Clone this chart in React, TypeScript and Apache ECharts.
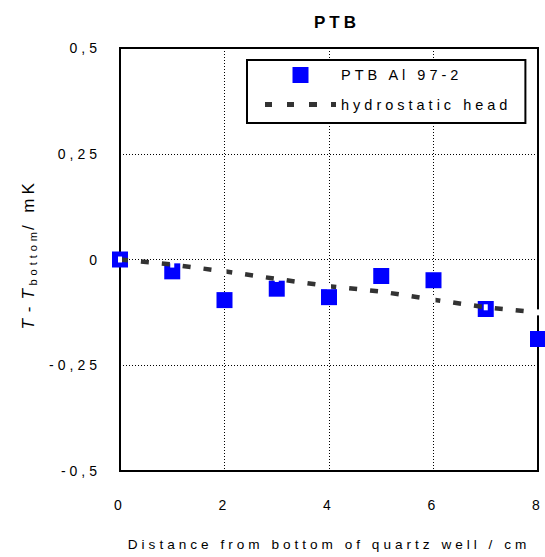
import React, { useEffect, useRef } from "react";
import * as echarts from "echarts";

const titleText = "PTB";
const xTicks = [0, 2, 4, 6, 8];
const yTicks = [-0.5, -0.25, 0, 0.25, 0.5];
const distances = [0, 1, 2, 3, 4, 5, 6, 7, 8];
const ptbValues = [0, -0.028, -0.096, -0.069, -0.089, -0.039, -0.049, -0.117, -0.188];
const hydroValues = [0, -0.012, -0.028, -0.046, -0.063, -0.076, -0.095, -0.113, -0.125];
const seriesNames = ["PTB Al 97-2", "hydrostatic head"];

const fmt = (v: number) => String(v).replace(".", ",");

export default function App() {
  const ref = useRef<HTMLDivElement>(null);
  useEffect(() => {
    if (!ref.current) return;
    const chart = echarts.init(ref.current, null, { renderer: "svg" });
    const font = "Liberation Sans, Arial, sans-serif";
    chart.setOption({
      animation: false,
      backgroundColor: "#fff",
      textStyle: { fontFamily: font, color: "#000" },
      title: {
        text: titleText,
        left: 309,
        top: 9,
        textStyle: { fontSize: 17, fontWeight: "bold", color: "#000", fontFamily: font },
      },
      grid: {
        left: 120,
        right: 7,
        top: 48,
        bottom: 86,
        show: true,
        borderColor: "#000",
        borderWidth: 2,
      },
      legend: {
        orient: "vertical",
        left: 247,
        top: 60,
        padding: [7, 78, 11, 18],
        itemWidth: 71,
        itemHeight: 16,
        itemGap: 14,
        borderColor: "#000",
        borderWidth: 2,
        backgroundColor: "#fff",
        textStyle: { fontSize: 14.5, color: "#000", fontFamily: font },
        data: [
          { name: seriesNames[0], icon: "path://M0,0h1v1h-1z", itemStyle: { color: "#0000ff", opacity: 1 } },
          {
            name: seriesNames[1],
            icon: "path://M0,0h7v5h-7z M22,0h7v5h-7z M44,0h8v5h-8z M66,0h5v5h-5z",
            itemStyle: { color: "#333", opacity: 1 },
          },
        ],
      },
      xAxis: {
        type: "value",
        min: 0,
        max: 8,
        interval: 2,
        name: "Distance from bottom of quartz well / cm",
        nameLocation: "middle",
        nameGap: 66,
        nameTextStyle: { fontSize: 13.6, color: "#000", fontFamily: font },
        axisLine: { show: false },
        axisTick: { show: false },
        axisLabel: {
          fontSize: 14,
          color: "#000",
          margin: 27,
          formatter: (v: number) => (xTicks.includes(v) ? fmt(v) : ""),
        },
        splitLine: { show: true, lineStyle: { color: "#000", width: 1, type: [1, 2] } },
      },
      yAxis: {
        type: "value",
        min: -0.5,
        max: 0.5,
        interval: 0.25,
        name: "{i|T}{n| - }{i|T}{s|bottom}{n| / mK}",
        nameLocation: "middle",
        nameGap: 82,
        nameTextStyle: {
          fontSize: 17,
          color: "#000",
          fontFamily: font,
          rich: {
            i: { fontStyle: "italic", fontSize: 17, fontFamily: font, width: 15 },
            n: { fontSize: 17, fontFamily: font },
            s: { fontSize: 11, fontFamily: font, padding: [9, 0, 0, 0], width: 56 },
          },
        },
        axisLine: { show: false },
        axisTick: { show: false },
        axisLabel: {
          fontSize: 14,
          color: "#000",
          margin: 19,
          formatter: (v: number) => (yTicks.includes(v) ? fmt(v) : ""),
        },
        splitLine: { show: true, lineStyle: { color: "#000", width: 1, type: [1, 2] } },
      },
      series: [
        {
          name: seriesNames[0],
          type: "scatter",
          symbol: "rect",
          symbolSize: 16,
          itemStyle: { color: "#0000ff", opacity: 1 },
          data: distances.map((d, i) => [d, ptbValues[i]]),
          z: 3,
        },
        {
          name: seriesNames[1],
          type: "line",
          symbol: "none",
          lineStyle: { color: "#333", width: 4.5, type: [8, 13] },
          itemStyle: { color: "#333" },
          data: distances.map((d, i) => [d, hydroValues[i]]),
          z: 4,
        },
        {
          name: "hydro-markers",
          type: "scatter",
          symbol: "rect",
          symbolSize: [4, 6],
          itemStyle: { color: "#fff", opacity: 1 },
          data: distances.map((d, i) => [d, hydroValues[i]]),
          z: 5,
          silent: true,
        },
      ],
    });
    return () => chart.dispose();
  }, []);
  return (
    <div
      ref={ref}
      style={{
        position: "fixed",
        left: 0,
        top: 0,
        width: 545,
        height: 557,
        letterSpacing: "4px",
      }}
    />
  );
}
